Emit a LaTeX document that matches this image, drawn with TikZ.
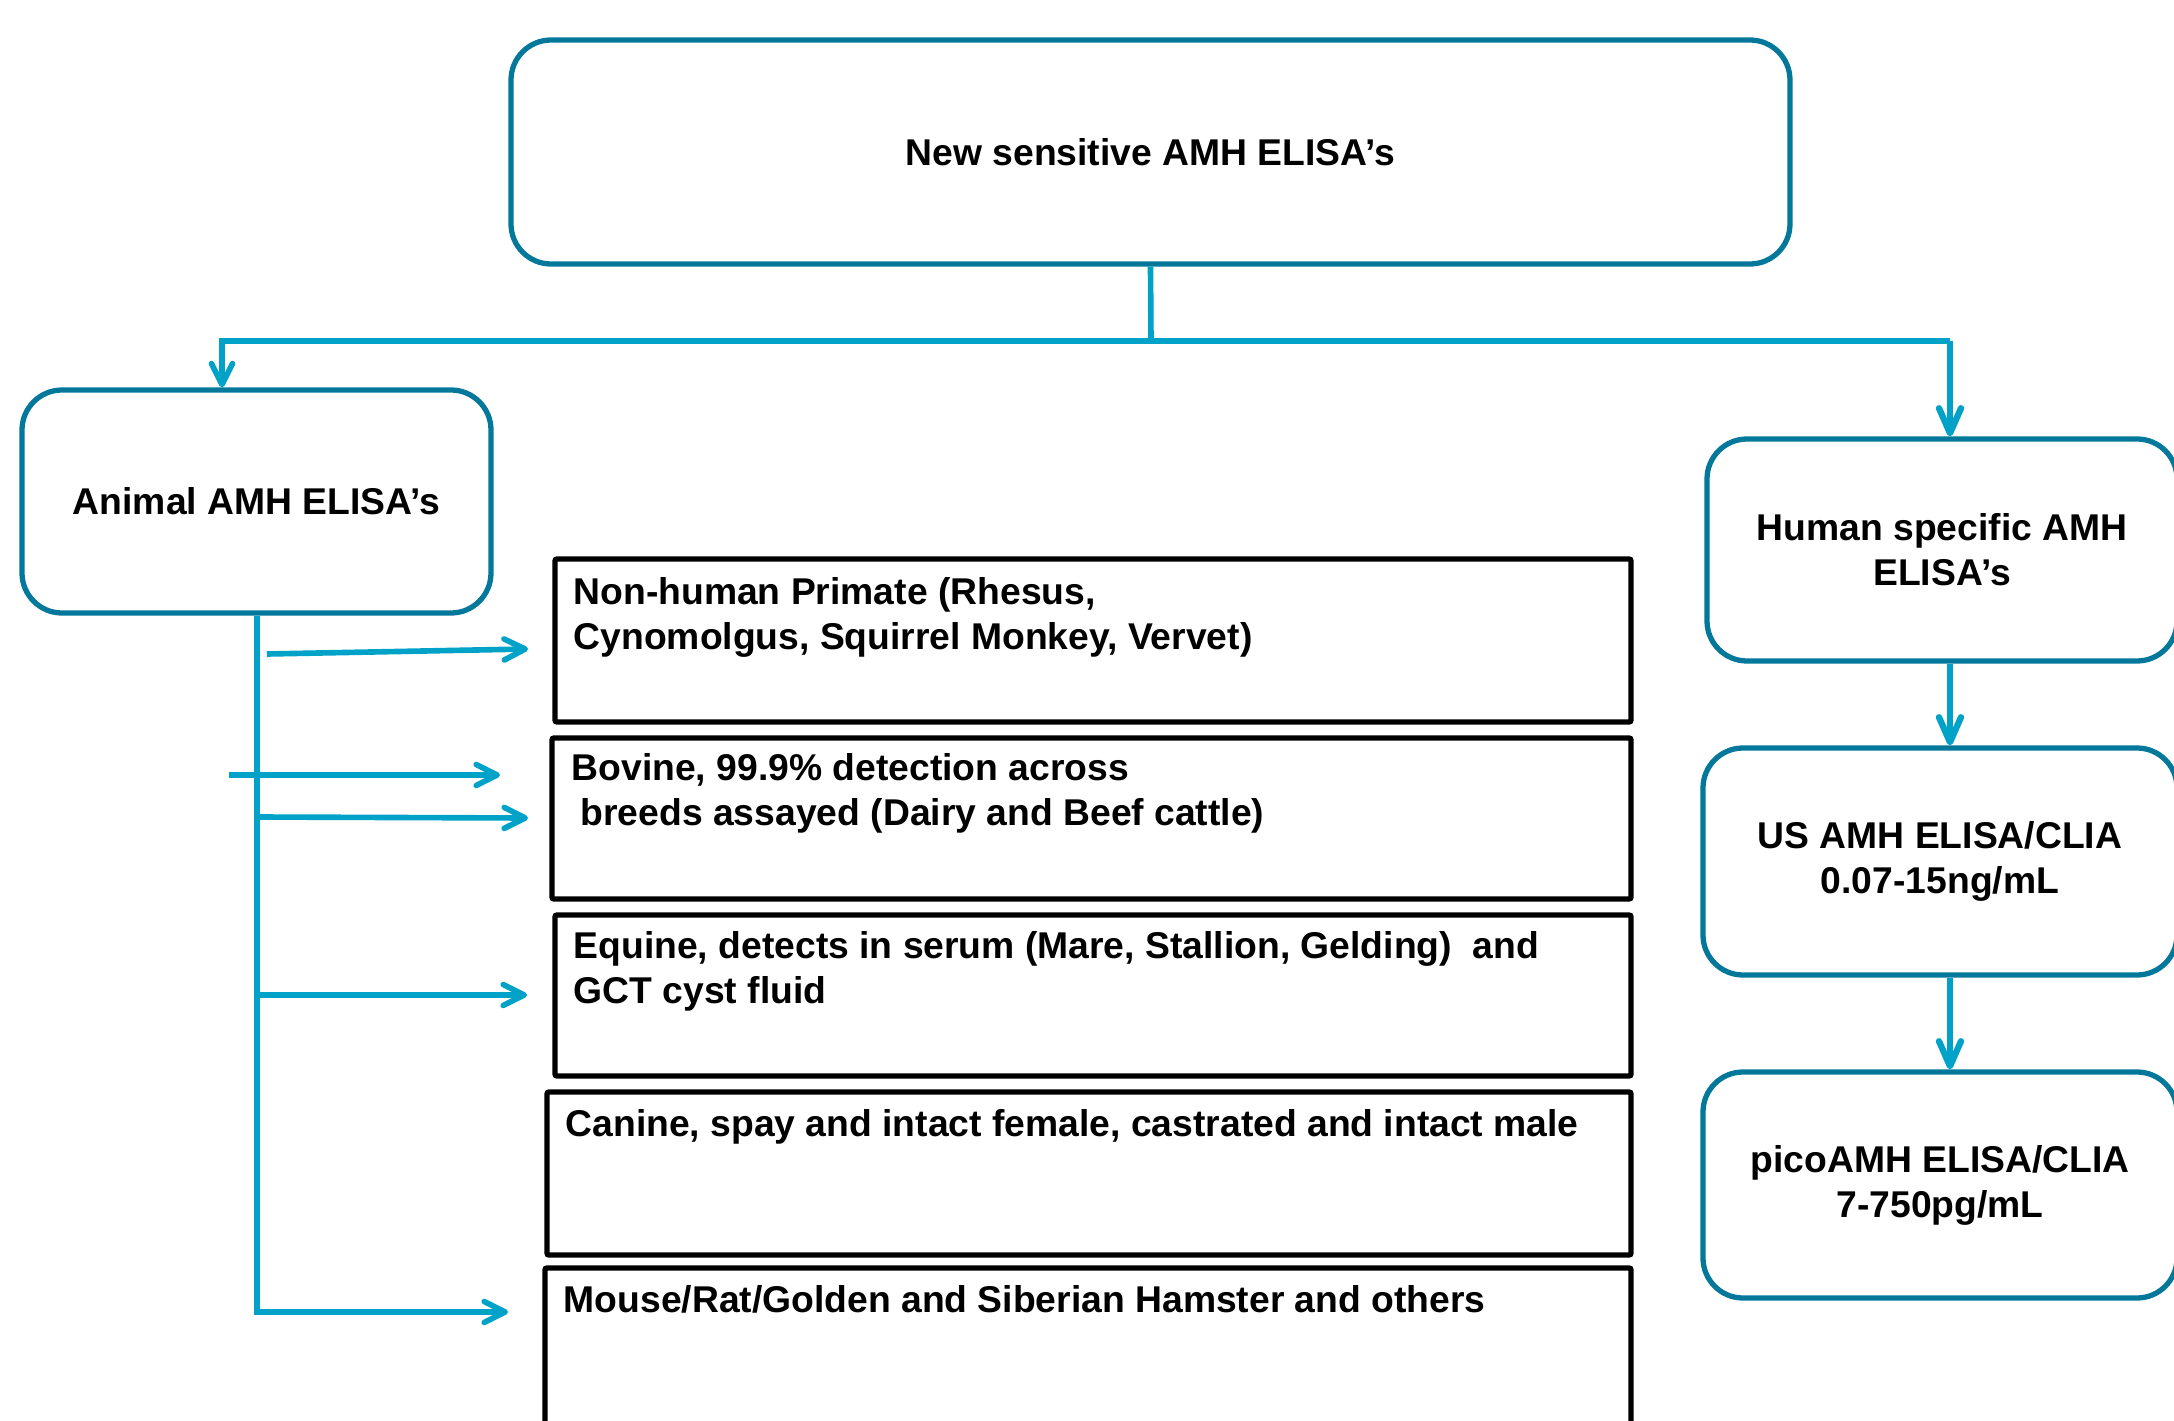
\documentclass[tikz,border=0pt]{standalone}
\usepackage{fontspec}
\setmainfont{Liberation Sans}
\usetikzlibrary{arrows.meta,fit}
\definecolor{tealb}{HTML}{03789A}
\definecolor{bluec}{HTML}{00A2C8}
\newcommand\txtfont{\fontsize{10.6pt}{12.8pt}\selectfont\bfseries}
\newcommand\tl[1]{\parbox[t]{12cm}{\raggedright #1}}
\begin{document}
\begin{tikzpicture}[x=0.01cm,y=-0.01cm,
  rbox/.style={draw=tealb, line width=1.5pt, rounded corners=0.4cm, inner sep=0pt},
  ctext/.style={align=center, inner sep=0pt, font=\txtfont},
  bbox/.style={draw=black, line width=1.55pt, rounded corners=0.6pt, inner sep=0pt},
  conn/.style={draw=bluec, line width=1.6pt},
  connb/.style={draw=bluec, line width=1.8pt},
  arr/.style={-{Straight Barb[length=0.21cm,width=0.21cm,round]}},
  arrb/.style={-{Straight Barb[length=0.25cm,width=0.22cm,round]}},
  lbl/.style={anchor=base west, inner sep=0pt, font=\txtfont}]
\useasboundingbox (0,0) rectangle (2174,1421);
\clip (0,0) rectangle (2174,1421);

% rounded (teal) boxes
\coordinate (p1) at (511,40);   \coordinate (p2) at (1790,264);
\node[rbox, fit=(p1)(p2)] (top) {};
\node[ctext] (ttop) at (top.center) {New sensitive AMH ELISA’s};
\coordinate (p3) at (22,390);   \coordinate (p4) at (491,613);
\node[rbox, fit=(p3)(p4)] (animal) {};
\node[ctext] (tanimal) at (animal.center) {Animal AMH ELISA’s};
\coordinate (p5) at (1707,439); \coordinate (p6) at (2177,661);
\node[rbox, fit=(p5)(p6)] (human) {};
\node[ctext] (thuman) at (human.center) {Human specific AMH\\ELISA’s};
\coordinate (p7) at (1703,748); \coordinate (p8) at (2177,975);
\node[rbox, fit=(p7)(p8)] (us) {};
\node[ctext] (tus) at (us.center) {US AMH ELISA/CLIA\\0.07-15ng/mL};
\coordinate (p9) at (1703,1072); \coordinate (p10) at (2177,1298);
\node[rbox, fit=(p9)(p10)] (pico) {};
\node[ctext] (tpico) at (pico.center) {picoAMH ELISA/CLIA\\7-750pg/mL};

% black boxes
\coordinate (q1) at (555,559);  \coordinate (q2) at (1631,722);
\node[bbox, fit=(q1)(q2)] (b1) {};
\coordinate (q3) at (552,738);  \coordinate (q4) at (1631,899);
\node[bbox, fit=(q3)(q4)] (b2) {};
\coordinate (q5) at (555,915);  \coordinate (q6) at (1631,1076);
\node[bbox, fit=(q5)(q6)] (b3) {};
\coordinate (q7) at (547,1092); \coordinate (q8) at (1631,1255);
\node[bbox, fit=(q7)(q8)] (b4) {};
\coordinate (q9) at (545,1268); \coordinate (q10) at (1631,1450);
\node[bbox, fit=(q9)(q10)] (b5) {};

\node[lbl] (t1) at (573,604) {\tl{Non-human Primate (Rhesus,\\Cynomolgus, Squirrel Monkey, Vervet)}};
\node[lbl] (t2) at (571,780) {\tl{Bovine, 99.9\% detection across\\\hspace*{0.09cm}breeds assayed (Dairy and Beef cattle)}};
\node[lbl] (t3) at (573,958) {\tl{Equine, detects in serum (Mare, Stallion, Gelding)\ \ and\\GCT cyst fluid}};
\node[lbl] (t4) at (565,1136) {\tl{Canine, spay and intact female, castrated and intact male}};
\node[lbl] (t5) at (563,1312) {\tl{Mouse/Rat/Golden and Siberian Hamster and others}};

% top connectors
\coordinate (jn) at (1151,341);
\coordinate (jL) at (222,341);
\coordinate (jR) at (1950,341);
\draw[conn] (top.south) -- (jn);
\draw[conn,arr] (jn) -- (jL) -- (jL |- animal.north);
\draw[conn] (jn) -- (jR);
\draw[connb,arrb] (jR) -- (jR |- human.north);
\draw[connb,arrb] (jR |- human.south) -- (jR |- us.north);
\draw[connb,arrb] (jR |- us.south) -- (jR |- pico.north);

% animal connectors
\coordinate (vc) at (257,1312);
\coordinate (a5e) at (508,1312);
\draw[conn,arr] (animal.south -| vc) -- (vc) -- (a5e);
\coordinate (a1s) at (267,654);  \coordinate (a1e) at (528,649);
\draw[conn,arr] (a1s) -- (a1e);
\coordinate (a2s) at (229,775);  \coordinate (a2e) at (500,775);
\draw[conn,arr] (a2s) -- (a2e);
\coordinate (a3s) at (257,817);  \coordinate (a3e) at (528,818);
\draw[conn,arr] (a3s) -- (a3e);
\coordinate (a4s) at (257,995);  \coordinate (a4e) at (527,995);
\draw[conn,arr] (a4s) -- (a4e);
\end{tikzpicture}
\end{document}
